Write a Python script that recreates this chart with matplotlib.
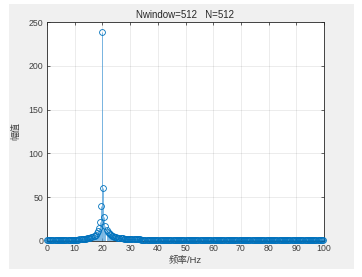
#! /usr/bin/env python3

import numpy as np
import matplotlib
matplotlib.use('Agg')
import matplotlib.pyplot as plt
from matplotlib.patches import Rectangle

# sampling setup shown in the title
fs = 200
nfft = 512
nwindow = 512

# |FFT| values, bins 0..255
amp = [
    0.59, 0.59, 0.59, 0.60, 0.61, 0.62, 0.63, 0.65, 0.67, 0.69,
    0.71, 0.73, 0.76, 0.79, 0.82, 0.85, 0.89, 0.93, 0.97, 1.02,
    1.06, 1.12, 1.17, 1.23, 1.30, 1.36, 1.44, 1.53, 1.62, 1.71,
    1.81, 1.92, 2.05, 2.18, 2.34, 2.51, 2.71, 2.94, 3.19, 3.49,
    3.85, 4.27, 4.78, 5.42, 6.23, 7.31, 8.79, 10.99, 14.56, 21.36,
    39.51, 239.08, 60.27, 27.01, 17.50, 13.00, 10.37, 8.65, 7.43, 6.53,
    5.83, 5.27, 4.82, 4.44, 4.12, 3.85, 3.61, 3.41, 3.22, 3.06,
    2.92, 2.79, 2.67, 2.56, 2.47, 2.37, 2.29, 2.21, 2.14, 2.08,
    2.02, 1.96, 1.91, 1.86, 1.81, 1.76, 1.72, 1.68, 1.65, 1.61,
    1.58, 1.54, 1.51, 1.48, 1.46, 1.43, 1.40, 1.38, 1.36, 1.33,
    1.31, 1.29, 1.27, 1.25, 1.23, 1.22, 1.20, 1.18, 1.17, 1.15,
    1.14, 1.12, 1.11, 1.09, 1.08, 1.07, 1.06, 1.04, 1.03, 1.02,
    1.01, 1.00, 0.99, 0.98, 0.97, 0.96, 0.95, 0.95, 0.94, 0.93,
    0.92, 0.91, 0.90, 0.90, 0.89, 0.88, 0.87, 0.87, 0.86, 0.85,
    0.85, 0.84, 0.84, 0.83, 0.83, 0.82, 0.82, 0.81, 0.81, 0.80,
    0.80, 0.79, 0.79, 0.78, 0.78, 0.77, 0.77, 0.76, 0.76, 0.75,
    0.74, 0.74, 0.74, 0.73, 0.73, 0.73, 0.72, 0.72, 0.72, 0.71,
    0.71, 0.71, 0.70, 0.70, 0.70, 0.69, 0.69, 0.69, 0.68, 0.68,
    0.68, 0.68, 0.67, 0.67, 0.67, 0.67, 0.66, 0.66, 0.66, 0.66,
    0.66, 0.65, 0.65, 0.65, 0.65, 0.64, 0.64, 0.64, 0.64, 0.64,
    0.63, 0.63, 0.63, 0.63, 0.63, 0.63, 0.63, 0.62, 0.62, 0.62,
    0.62, 0.62, 0.62, 0.62, 0.61, 0.61, 0.61, 0.61, 0.61, 0.61,
    0.61, 0.61, 0.60, 0.60, 0.60, 0.60, 0.60, 0.60, 0.60, 0.60,
    0.60, 0.60, 0.60, 0.60, 0.60, 0.60, 0.59, 0.59, 0.59, 0.59,
    0.59, 0.59, 0.59, 0.59, 0.59, 0.59, 0.59, 0.59, 0.59, 0.59,
    0.59, 0.59, 0.59, 0.59, 0.59, 0.59,
]
xticks = [0, 10, 20, 30, 40, 50, 60, 70, 80, 90, 100]
yticks = [0, 50, 100, 150, 200, 250]

freq = np.arange(len(amp)) * fs / nfft

plt.rcParams['font.family'] = ['Liberation Sans', 'Noto Sans CJK SC', 'DejaVu Sans']

fig = plt.figure(figsize=(3.62, 2.77), dpi=100, facecolor='white')
# matlab grey figure panel
fig.patches.append(Rectangle((9 / 362, 1 - 269 / 277), 345 / 362, 265 / 277,
                             transform=fig.transFigure, facecolor='#f0f0f0',
                             edgecolor='none', zorder=-10))
ax = fig.add_axes([47 / 362, 1 - 241 / 277, 277 / 362, 219 / 277])
ax.set_zorder(5)
ax.set_facecolor('white')

blue = '#0072BD'
ax.vlines(freq, 0, amp, colors='#4a9edb', linewidth=0.5, zorder=2)
ax.plot(freq, amp, 'o', markersize=4.2, markerfacecolor='none',
        markeredgecolor=blue, markeredgewidth=0.6, zorder=3, clip_on=False)
ax.axhline(0, color='#262626', linewidth=0.6, zorder=2)

ax.set_xlim(0, 100)
ax.set_ylim(0, 250)
ax.set_xticks(xticks)
ax.set_yticks(yticks)
ax.grid(True, color='#262626', alpha=0.12, linewidth=0.5)
ax.set_axisbelow(True)
ax.tick_params(direction='in', length=2.5, width=0.5, colors='#262626',
               labelsize=6.3, labelcolor='#404040', top=True, right=True, pad=2.5)
for s in ax.spines.values():
    s.set_color('#262626')
    s.set_linewidth(0.6)

ax.set_title('Nwindow=%d   N=%d' % (nwindow, nfft), fontsize=7,
             color='#262626', pad=3)
ax.set_xlabel('频率/Hz', fontsize=6.8, color='#404040', labelpad=2)
ax.set_ylabel('幅值', fontsize=6.5, color='#404040', labelpad=6)

fig.savefig('out.png', dpi=100, facecolor=fig.get_facecolor())
plt.close('all')
